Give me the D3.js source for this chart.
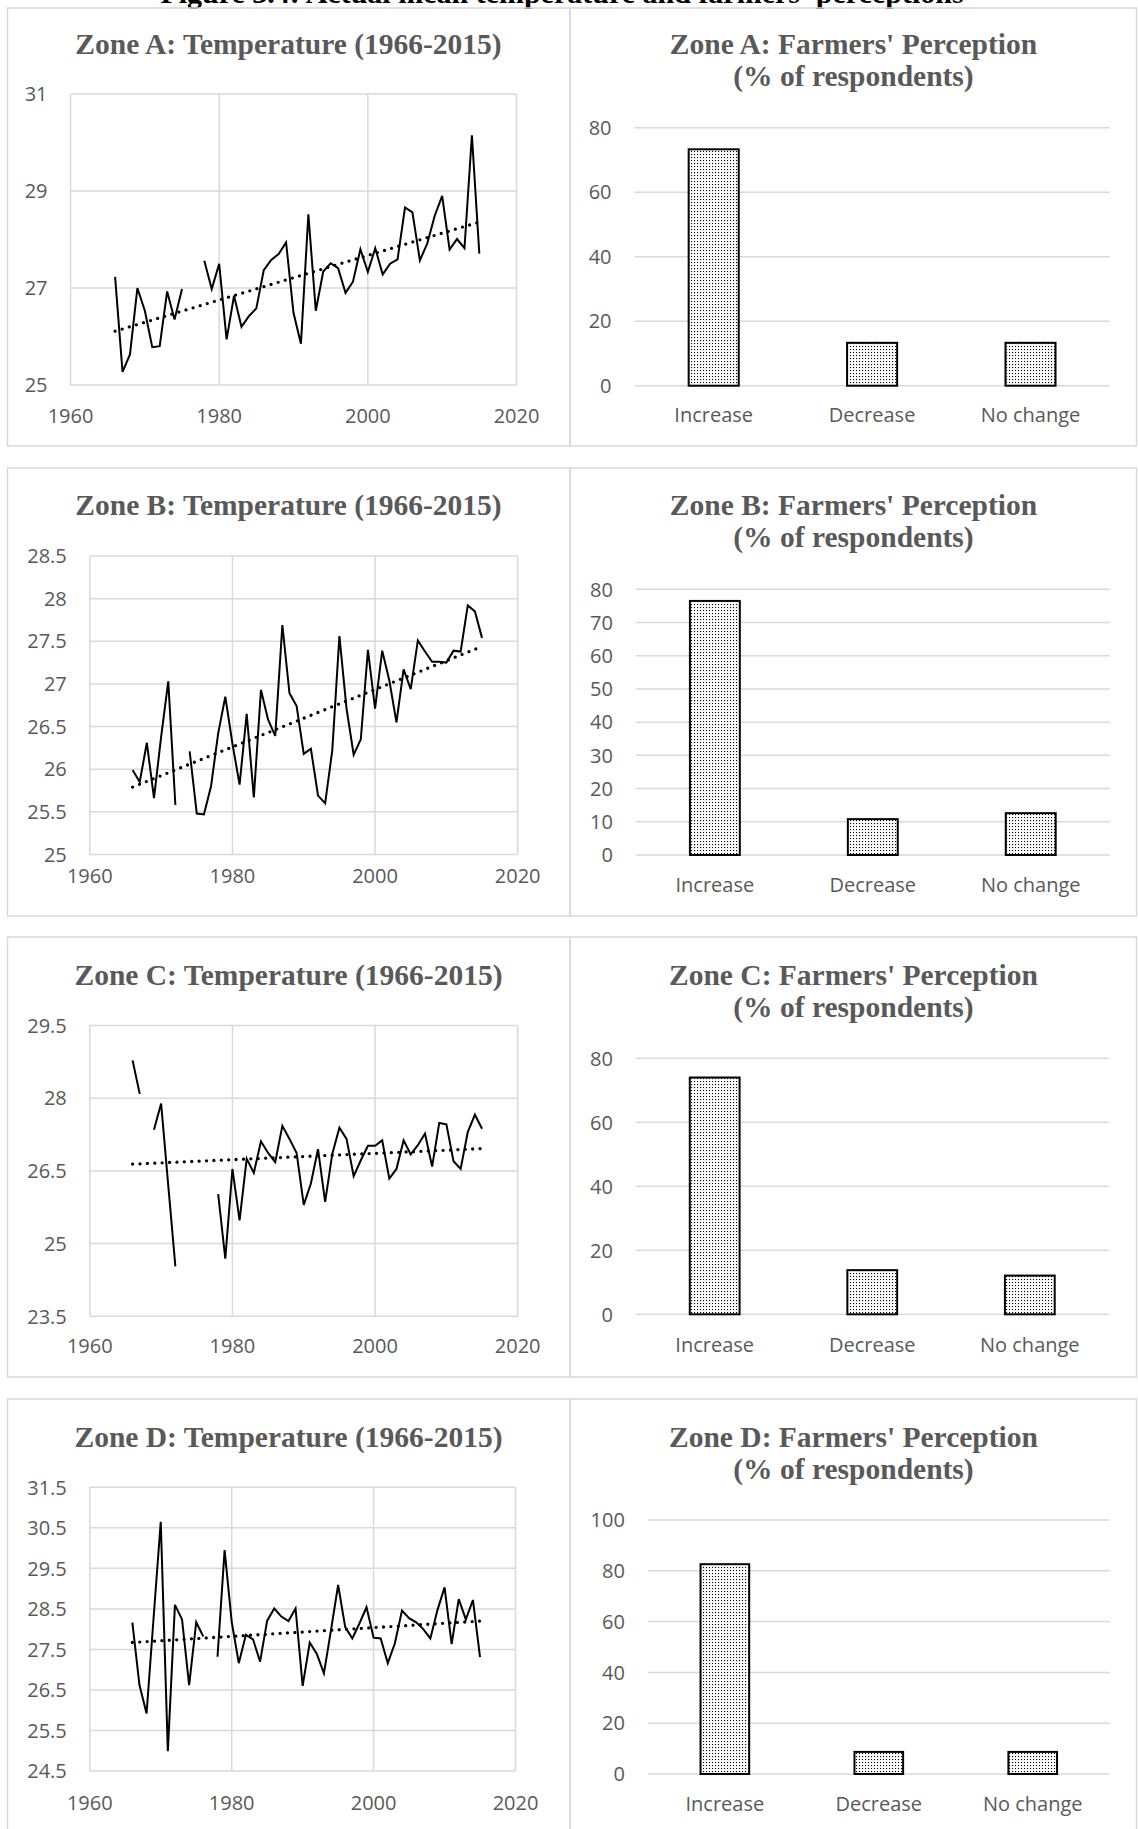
<!DOCTYPE html>
<html>
<head>
<meta charset="utf-8">
<script src="https://cdn.jsdelivr.net/npm/d3@7"></script>
<style>
  body { margin: 0; background: #fff; }
  svg { display: block; }
  .tick-label { font-family: "Open Sans", "Noto Sans", sans-serif; font-size: 20px; fill: #595959; }
  .chart-title { font-family: "Liberation Serif", "Times New Roman", serif; font-weight: bold; font-size: 29.5px; fill: #595959; }
</style>
</head>
<body>
<div id="chart"></div>
<script>
// ---- data ----
const years = [1966, 1967, 1968, 1969, 1970, 1971, 1972, 1973, 1974, 1975,
               1976, 1977, 1978, 1979, 1980, 1981, 1982, 1983, 1984, 1985,
               1986, 1987, 1988, 1989, 1990, 1991, 1992, 1993, 1994, 1995,
               1996, 1997, 1998, 1999, 2000, 2001, 2002, 2003, 2004, 2005,
               2006, 2007, 2008, 2009, 2010, 2011, 2012, 2013, 2014, 2015];

const tempA = [27.23, 25.27, 25.63, 27.00, 26.53, 25.78, 25.80, 26.93, 26.35, 26.98,
               null, null, 27.56, 26.98, 27.50, 25.94, 26.84, 26.20, 26.42, 26.58,
               27.37, 27.58, 27.70, 27.94, 26.49, 25.85, 28.52, 26.53, 27.34, 27.51,
               27.41, 26.90, 27.13, 27.80, 27.33, 27.82, 27.28, 27.50, 27.59, 28.66,
               28.56, 27.57, 27.92, 28.49, 28.90, 27.79, 28.01, 27.82, 30.15, 27.71];

const tempB = [25.99, 25.85, 26.31, 25.66, 26.38, 27.03, 25.58, null, 26.21, 25.48,
               25.47, 25.80, 26.42, 26.85, 26.30, 25.82, 26.65, 25.67, 26.93, 26.58,
               26.39, 27.69, 26.89, 26.74, 26.18, 26.24, 25.69, 25.60, 26.22, 27.56,
               26.71, 26.17, 26.35, 27.40, 26.71, 27.39, 27.04, 26.55, 27.17, 26.94,
               27.51, 27.38, 27.26, 27.26, 27.25, 27.39, 27.38, 27.92, 27.85, 27.54];

const tempC = [28.78, 28.09, null, 27.35, 27.89, 26.20, 24.53, null, null, null,
               null, null, 26.02, 24.69, 26.54, 25.48, 26.75, 26.46, 27.11, 26.87,
               26.68, 27.43, 27.16, 26.87, 25.80, 26.24, 26.95, 25.86, 26.85, 27.39,
               27.16, 26.39, 26.72, 27.02, 27.02, 27.13, 26.34, 26.54, 27.13, 26.84,
               27.03, 27.27, 26.59, 27.49, 27.46, 26.70, 26.54, 27.30, 27.66, 27.37];

const tempD = [28.16, 26.62, 25.92, 28.30, 30.65, 24.99, 28.60, 28.24, 26.62, 28.17,
               27.82, null, 27.32, 29.95, 28.18, 27.16, 27.86, 27.75, 27.20, 28.21,
               28.51, 28.31, 28.20, 28.51, 26.60, 27.67, 27.39, 26.91, 27.98, 29.09,
               28.05, 27.77, 28.14, 28.54, 27.79, 27.77, 27.16, 27.65, 28.46, 28.27,
               28.17, 28.00, 27.77, 28.47, 29.03, 27.63, 28.74, 28.24, 28.72, 27.31];

// linear trendlines, end values as drawn
const trendYears = [1966, 2015];
const trendA = [26.11, 28.36];
const trendB = [25.79, 27.44];
const trendC = [26.64, 26.96];
const trendD = [27.67, 28.20];

const categories = ["Increase", "Decrease", "No change"];
const percA = [73.3, 13.3, 13.3];
const percB = [76.5, 10.8, 12.6];
const percC = [74.0, 13.8, 12.1];
const percD = [82.6, 8.7, 8.7];

const yearTicks = [1960, 1980, 2000, 2020];
const tempTicksA = [25, 27, 29, 31];
const tempTicksB = [25, 25.5, 26, 26.5, 27, 27.5, 28, 28.5];
const tempTicksC = [23.5, 25, 26.5, 28, 29.5];
const tempTicksD = [24.5, 25.5, 26.5, 27.5, 28.5, 29.5, 30.5, 31.5];
const percTicksA = [0, 20, 40, 60, 80];
const percTicksB = [0, 10, 20, 30, 40, 50, 60, 70, 80];
const percTicksC = [0, 20, 40, 60, 80];
const percTicksD = [0, 20, 40, 60, 80, 100];

// ---- layout ----
const W = 1138, H = 1829;
const svg = d3.select("#chart").append("svg")
    .attr("width", W)
    .attr("height", H);

// stipple pattern for bars
const defs = svg.append("defs");
const pat = defs.append("pattern")
    .attr("id", "dots")
    .attr("patternUnits", "userSpaceOnUse")
    .attr("width", 3)
    .attr("height", 3);
pat.append("rect").attr("width", 3).attr("height", 3).attr("fill", "#fff");
pat.append("rect").attr("x", 1).attr("y", 1).attr("width", 1.1).attr("height", 1.1).attr("fill", "#000");

// heading of the figure, cut by the top edge of the page as in the scan
svg.append("text")
    .attr("x", 562)
    .attr("y", 3)
    .attr("text-anchor", "middle")
    .style("font-family", "'Liberation Serif', 'Times New Roman', serif")
    .style("font-weight", "bold")
    .style("font-size", "30px")
    .text("Figure 3.4: Actual mean temperature and farmers' perceptions");

// panel frames
const rows = [
    {top: 8, bottom: 446},
    {top: 468, bottom: 916},
    {top: 937, bottom: 1377},
    {top: 1399, bottom: 1845}
];
rows.forEach(r => {
    svg.append("rect")
        .attr("x", 7.5).attr("y", r.top)
        .attr("width", 570 - 7.5).attr("height", r.bottom - r.top)
        .attr("fill", "none").attr("stroke", "#d9d9d9").attr("stroke-width", 1.5);
    svg.append("rect")
        .attr("x", 570).attr("y", r.top)
        .attr("width", 1136.5 - 570).attr("height", r.bottom - r.top)
        .attr("fill", "none").attr("stroke", "#d9d9d9").attr("stroke-width", 1.5);
});

// ---- line charts ----
function lineChart(cfg) {
    const g = svg.append("g");

    const x = d3.scaleLinear().domain([1960, 2020]).range([cfg.x0, cfg.x1]);
    const y = d3.scaleLinear().domain(d3.extent(cfg.ticks)).range([cfg.yBot, cfg.yTop]);

    g.append("text")
        .attr("class", "chart-title")
        .attr("x", 288.5)
        .attr("y", cfg.titleY)
        .attr("text-anchor", "middle")
        .text(cfg.title);

    // gridlines
    g.selectAll(".hgrid").data(cfg.ticks).enter().append("line")
        .attr("x1", cfg.x0).attr("x2", cfg.x1)
        .attr("y1", d => y(d)).attr("y2", d => y(d))
        .attr("stroke", "#d9d9d9").attr("stroke-width", 1.5);
    g.selectAll(".vgrid").data(yearTicks).enter().append("line")
        .attr("x1", d => x(d)).attr("x2", d => x(d))
        .attr("y1", cfg.yTop).attr("y2", cfg.yBot)
        .attr("stroke", "#d9d9d9").attr("stroke-width", 1.5);

    // tick labels
    g.selectAll(".ylab").data(cfg.ticks).enter().append("text")
        .attr("class", "tick-label")
        .attr("x", cfg.x0 - 23)
        .attr("y", d => y(d))
        .attr("dy", "0.36em")
        .attr("text-anchor", "end")
        .text(d => d);
    g.selectAll(".xlab").data(yearTicks).enter().append("text")
        .attr("class", "tick-label")
        .attr("x", d => x(d))
        .attr("y", cfg.xLabY)
        .attr("text-anchor", "middle")
        .text(d => d);

    // temperature series, gaps for missing years
    const pts = years.map((yr, i) => ({year: yr, value: cfg.values[i]}));
    const line = d3.line()
        .defined(d => d.value != null)
        .x(d => x(d.year))
        .y(d => y(d.value));
    g.append("path")
        .datum(pts)
        .attr("d", line)
        .attr("fill", "none")
        .attr("stroke", "#000")
        .attr("stroke-width", 2);

    // dotted linear trend
    const tr = trendYears.map((yr, i) => ({year: yr, value: cfg.trend[i]}));
    g.append("path")
        .datum(tr)
        .attr("d", d3.line().x(d => x(d.year)).y(d => y(d.value)))
        .attr("fill", "none")
        .attr("stroke", "#000")
        .attr("stroke-width", 3.3)
        .attr("stroke-linecap", "round")
        .attr("stroke-dasharray", "0 7.4");
}

// ---- bar charts ----
function barChart(cfg) {
    const g = svg.append("g");

    const x = d3.scaleBand().domain(categories).range([cfg.x0, cfg.x1])
        .paddingInner(0.684).paddingOuter(0.342);
    const y = d3.scaleLinear().domain(d3.extent(cfg.ticks)).range([cfg.yBot, cfg.yTop]);

    g.selectAll(".title").data(cfg.title).enter().append("text")
        .attr("class", "chart-title")
        .attr("x", 853.5)
        .attr("y", (d, i) => cfg.titleY + i * 32)
        .attr("text-anchor", "middle")
        .text(d => d);

    g.selectAll(".hgrid").data(cfg.ticks).enter().append("line")
        .attr("x1", cfg.x0).attr("x2", cfg.x1)
        .attr("y1", d => y(d)).attr("y2", d => y(d))
        .attr("stroke", "#d9d9d9").attr("stroke-width", 1.5);

    g.selectAll(".ylab").data(cfg.ticks).enter().append("text")
        .attr("class", "tick-label")
        .attr("x", cfg.x0 - 23)
        .attr("y", d => y(d))
        .attr("dy", "0.36em")
        .attr("text-anchor", "end")
        .text(d => d);

    g.selectAll(".bar").data(cfg.values).enter().append("rect")
        .attr("x", (d, i) => x(categories[i]))
        .attr("y", d => y(d))
        .attr("width", x.bandwidth())
        .attr("height", d => y(0) - y(d))
        .attr("fill", "url(#dots)")
        .attr("stroke", "#000")
        .attr("stroke-width", 2);

    g.selectAll(".xlab").data(categories).enter().append("text")
        .attr("class", "tick-label")
        .attr("x", d => x(d) + x.bandwidth() / 2)
        .attr("y", cfg.catY)
        .attr("text-anchor", "middle")
        .text(d => d);
}

lineChart({title: "Zone A: Temperature (1966-2015)", values: tempA, trend: trendA, ticks: tempTicksA,
    x0: 70.5, x1: 516.5, yTop: 94, yBot: 385, titleY: 54.3, xLabY: 423});
lineChart({title: "Zone B: Temperature (1966-2015)", values: tempB, trend: trendB, ticks: tempTicksB,
    x0: 89.8, x1: 517.7, yTop: 556, yBot: 854.5, titleY: 515, xLabY: 883});
lineChart({title: "Zone C: Temperature (1966-2015)", values: tempC, trend: trendC, ticks: tempTicksC,
    x0: 89.8, x1: 517.7, yTop: 1025.5, yBot: 1316.3, titleY: 985, xLabY: 1353});
lineChart({title: "Zone D: Temperature (1966-2015)", values: tempD, trend: trendD, ticks: tempTicksD,
    x0: 89.8, x1: 515.5, yTop: 1487.3, yBot: 1771, titleY: 1446.7, xLabY: 1810});

barChart({title: ["Zone A: Farmers' Perception", "(% of respondents)"], values: percA, ticks: percTicksA,
    x0: 634.5, x1: 1109.7, yTop: 127.7, yBot: 385.7, titleY: 54, catY: 421.7});
barChart({title: ["Zone B: Farmers' Perception", "(% of respondents)"], values: percB, ticks: percTicksB,
    x0: 635.9, x1: 1109.7, yTop: 589.3, yBot: 855, titleY: 515, catY: 891.7});
barChart({title: ["Zone C: Farmers' Perception", "(% of respondents)"], values: percC, ticks: percTicksC,
    x0: 635.9, x1: 1108.6, yTop: 1058.3, yBot: 1314.3, titleY: 985, catY: 1351.7});
barChart({title: ["Zone D: Farmers' Perception", "(% of respondents)"], values: percD, ticks: percTicksD,
    x0: 647.9, x1: 1109.7, yTop: 1520, yBot: 1774, titleY: 1446.7, catY: 1810.7});
</script>
</body>
</html>
